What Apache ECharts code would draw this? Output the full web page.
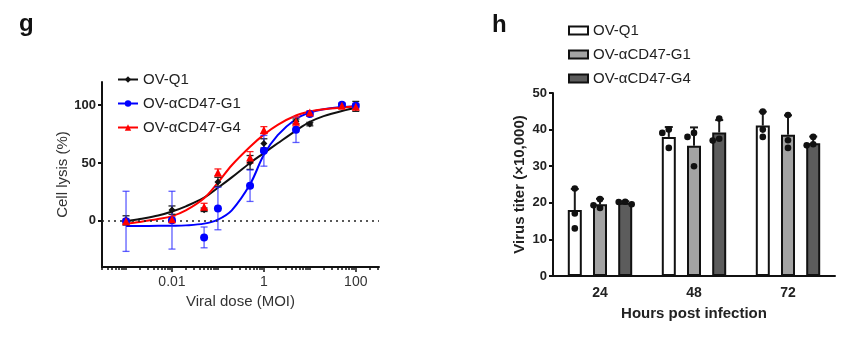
<!DOCTYPE html>
<html>
<head>
<meta charset="utf-8">
<script src="https://cdn.jsdelivr.net/npm/echarts@6/dist/echarts.min.js"></script>
<style>
html,body{margin:0;padding:0;background:#fff;}
#main{width:866px;height:339px;}
</style>
</head>
<body>
<div id="main"></div>
<script>
// ---------- Panel g data ----------
const SERIES_NAMES = ['OV-Q1', 'OV-αCD47-G1', 'OV-αCD47-G4'];
const DOSES = [0.001, 0.01, 0.05, 0.1, 0.5, 1, 5, 10, 50, 100];
const Q1_MEAN = [0.3, 9.2, 9.5, 33.6, 50.4, 66.9, 86, 83.6, 100, 98.9];
const Q1_SD   = [4, 3.6, 1.5, 4, 6, 4, 2, 1.5, 1.5, 4.3];
const G1_MEAN = [-0.5, 0.5, -14.4, 10.6, 30.3, 60.5, 78.7, 92.3, 100.3, 99.5];
const G1_SD   = [26, 25, 9, 18.4, 13.6, 13.3, 11, 2, 1.5, 2];
const G4_MEAN = [-0.5, 1.4, 12.1, 41.8, 54.8, 78.4, 85.9, 93.7, 99.5, 98.6];
const G4_SD   = [2, 2, 3, 3, 5, 3, 4, 1.5, 1, 2];
// fitted curves
const FIT_DOSES = [0.001, 0.002, 0.005, 0.01, 0.02, 0.05, 0.1, 0.2, 0.5, 1, 2, 5, 10, 20, 50, 100];
const Q1_FIT = [-0.5, 1.5, 4.5, 8, 12.5, 20, 28.5, 37.5, 50, 58.5, 67, 78, 85.5, 90.5, 95, 97.5];
const G1_FIT = [-4.5, -4.5, -4.4, -4.3, -4, -2.5, 1, 9, 31.5, 57, 74, 88, 93.5, 96.5, 98.3, 99];
const G4_FIT = [-2.5, -1, 1.5, 4, 9, 19.5, 33, 48, 64, 74.5, 83, 91, 94.5, 96.5, 98, 98.8];
const G_Y_TICKS = [0, 50, 100];
const G_X_LABELS = [0.01, 1, 100];

// ---------- Panel h data ----------
const HOURS = ['24', '48', '72'];
const H_Q1_MEAN = [18.0, 38.0, 41.1];
const H_G1_MEAN = [19.6, 35.6, 38.6];
const H_G4_MEAN = [20.0, 39.2, 36.3];
const H_Q1_SD = [5.8, 2.7, 3.8];
const H_G1_SD = [1.5, 5.0, 5.3];
const H_G4_SD = [0.4, 3.4, 1.8];
const H_Q1_REPS = [[23.9, 17.1, 13.0], [40.0, 39.1, 35.0], [44.9, 40.0, 38.0]];
const H_G1_REPS = [[21.0, 19.3, 18.6], [39.1, 38.0, 30.0], [44.0, 37.1, 35.0]];
const H_G4_REPS = [[19.6, 20.2, 20.3], [43.0, 37.5, 37.0], [38.0, 35.7, 36.0]];

// ---------- styles ----------
const FONT = "'Liberation Sans', Arial, sans-serif";
const G_COLORS = ['#111111', '#0000ff', '#ff0000'];
const G_ERR_COLORS = ['#222222', 'rgba(40,40,255,0.75)', '#ff2020'];
const G_SYMBOLS = ['diamond', 'circle', 'triangle'];
const G_SYMBOL_SIZE = [7, 8, 8];
const H_FILLS = ['#ffffff', '#a3a3a3', '#5c5c5c'];
const BAR_W = 14, BAR_GAP_RATIO = 0.8;

// minor ticks for log axis
const minorTicks = [];
for (let e = -4; e <= 2; e++) {
  for (let k = 1; k <= 9; k++) {
    const v = k * Math.pow(10, e);
    if (v >= 0.0003 && v <= 320) minorTicks.push(+v.toPrecision(3));
  }
}

function gErr(color) {
  return function (params, api) {
    const x = api.value(0), m = api.value(1), s = api.value(2);
    const t = api.coord([x, m + s]);
    const b = api.coord([x, m - s]);
    const hw = 3.5;
    const st = { stroke: color, lineWidth: 1.3 };
    return {
      type: 'group',
      children: [
        { type: 'line', shape: { x1: t[0], y1: t[1], x2: b[0], y2: b[1] }, style: st },
        { type: 'line', shape: { x1: t[0] - hw, y1: t[1], x2: t[0] + hw, y2: t[1] }, style: st },
        { type: 'line', shape: { x1: b[0] - hw, y1: b[1], x2: b[0] + hw, y2: b[1] }, style: st }
      ]
    };
  };
}

const gMeans = [Q1_MEAN, G1_MEAN, G4_MEAN];
const gSds = [Q1_SD, G1_SD, G4_SD];
const gFits = [Q1_FIT, G1_FIT, G4_FIT];

const series = [];
// curves
gFits.forEach((fit, i) => {
  series.push({
    name: SERIES_NAMES[i], type: 'line', xAxisIndex: 0, yAxisIndex: 0,
    data: FIT_DOSES.map((d, j) => [d, fit[j]]),
    smooth: 0.35, showSymbol: false, symbol: G_SYMBOLS[i], symbolSize: G_SYMBOL_SIZE[i],
    lineStyle: { color: G_COLORS[i], width: 2 }, itemStyle: { color: G_COLORS[i] },
    z: 2 + i, silent: true,
    markLine: i === 0 ? {
      silent: true, symbol: 'none', label: { show: false },
      lineStyle: { color: '#222', type: [2, 4], width: 1.5 },
      data: [{ yAxis: 0 }]
    } : undefined
  });
});
// error bars
gMeans.forEach((m, i) => {
  series.push({
    name: SERIES_NAMES[i], type: 'custom', xAxisIndex: 0, yAxisIndex: 0,
    renderItem: gErr(G_ERR_COLORS[i]),
    data: DOSES.map((d, j) => [d, m[j], gSds[i][j]]),
    encode: { x: 0, y: 1 }, z: 5 + i, silent: true
  });
});
// markers
gMeans.forEach((m, i) => {
  series.push({
    name: SERIES_NAMES[i], type: 'scatter', xAxisIndex: 0, yAxisIndex: 0,
    data: DOSES.map((d, j) => [d, m[j]]),
    symbol: G_SYMBOLS[i], symbolSize: G_SYMBOL_SIZE[i],
    itemStyle: { color: G_COLORS[i], opacity: 1 }, z: 8 + i, silent: true
  });
});

// ---------- panel h ----------
const hMeans = [H_Q1_MEAN, H_G1_MEAN, H_G4_MEAN];
const hSds = [H_Q1_SD, H_G1_SD, H_G4_SD];
const hReps = [H_Q1_REPS, H_G1_REPS, H_G4_REPS];
hMeans.forEach((m, i) => {
  series.push({
    name: SERIES_NAMES[i], type: 'bar', xAxisIndex: 2, yAxisIndex: 1,
    data: m, barWidth: BAR_W, barGap: (BAR_GAP_RATIO * 100) + '%',
    itemStyle: { color: H_FILLS[i], borderColor: '#111', borderWidth: 2 },
    silent: true, z: 2
  });
});
const barStep = BAR_W * (1 + BAR_GAP_RATIO);
// error bars (upper only)
const hErrData = [];
hMeans.forEach((m, g) => m.forEach((v, t) => hErrData.push([t, v, hSds[g][t], g])));
series.push({
  type: 'custom', xAxisIndex: 2, yAxisIndex: 1, silent: true, z: 4,
  data: hErrData, encode: { x: 0, y: 1 },
  renderItem: function (params, api) {
    const t = api.value(0), m = api.value(1), s = api.value(2), g = api.value(3);
    const off = (g - 1) * barStep;
    const p0 = api.coord([t, m]);
    const p1 = api.coord([t, m + s]);
    const x = p0[0] + off;
    const st = { stroke: '#1a1a1a', lineWidth: 2 };
    return {
      type: 'group', children: [
        { type: 'line', shape: { x1: x, y1: p0[1], x2: x, y2: p1[1] }, style: st },
        { type: 'line', shape: { x1: x - 4, y1: p1[1], x2: x + 4, y2: p1[1] }, style: st }
      ]
    };
  }
});
// replicate dots, beeswarm-like spreading
function swarm(vals) {
  const order = vals.map((v, i) => i).sort((a, b) => vals[b] - vals[a]);
  const res = new Array(vals.length);
  const slots = [0, -1, 1];
  order.forEach(i => {
    for (const s of slots) {
      const clash = order.some(k => res[k] === s && Math.abs(vals[k] - vals[i]) < 2);
      if (!clash) { res[i] = s; break; }
    }
    if (res[i] === undefined) res[i] = 0;
  });
  return res;
}
const dotData = [];
hReps.forEach((reps, g) => reps.forEach((vals, t) => {
  const sl = swarm(vals);
  vals.forEach((v, r) => dotData.push([t, v, g, sl[r]]));
}));
series.push({
  type: 'custom', xAxisIndex: 2, yAxisIndex: 1, silent: true, z: 6,
  data: dotData, encode: { x: 0, y: 1 },
  renderItem: function (params, api) {
    const t = api.value(0), v = api.value(1), g = api.value(2), s = api.value(3);
    const p = api.coord([t, v]);
    return {
      type: 'circle',
      shape: { cx: p[0] + (g - 1) * barStep + s * 6.5, cy: p[1], r: 3.3 },
      style: { fill: '#111' }
    };
  }
});

const option = {
  animation: false,
  backgroundColor: '#fff',
  textStyle: { fontFamily: FONT },
  graphic: [
    { type: 'text', left: 19, top: 12, style: { text: 'g', font: "bold 24px 'Liberation Sans', Arial", fill: '#111' } },
    { type: 'text', left: 492, top: 13, style: { text: 'h', font: "bold 24px 'Liberation Sans', Arial", fill: '#111' } }
  ],
  legend: [
    {
      orient: 'vertical', left: 112, top: 67, itemWidth: 20, itemHeight: 8, itemGap: 9,
      data: SERIES_NAMES.slice(),
      textStyle: { fontSize: 15, color: '#222', fontFamily: FONT },
      selectedMode: false
    },
    {
      orient: 'vertical', left: 563, top: 18, itemWidth: 19, itemHeight: 8, itemGap: 9,
      data: SERIES_NAMES.map((n, i) => ({
        name: n, icon: 'rect',
        itemStyle: { color: H_FILLS[i], borderColor: '#111', borderWidth: 2 }
      })),
      textStyle: { fontSize: 15, color: '#222', fontFamily: FONT },
      selectedMode: false
    }
  ],
  grid: [
    { left: 102, right: 487, top: 82, bottom: 72 },
    { left: 553, right: 31, top: 93, bottom: 63 }
  ],
  xAxis: [
    {
      type: 'log', logBase: 10, gridIndex: 0, min: 0.0003, max: 320,
      name: 'Viral dose (MOI)', nameLocation: 'middle', nameGap: 25,
      nameTextStyle: { fontSize: 15, color: '#333', fontFamily: FONT },
      axisLine: { onZero: false, lineStyle: { color: '#111', width: 2 } },
      axisTick: { show: true, customValues: minorTicks, length: 3, inside: false, lineStyle: { color: '#111', width: 1.5 } },
      axisLabel: {
        customValues: G_X_LABELS, fontSize: 14, color: '#333', margin: 8, fontFamily: FONT,
        formatter: v => (+v).toString()
      },
      splitLine: { show: false }, minorTick: { show: false }
    },
    {
      type: 'log', logBase: 10, gridIndex: 0, min: 0.0003, max: 320, position: 'bottom',
      axisLine: { show: false, onZero: false },
      axisTick: { show: true, customValues: G_X_LABELS, length: 5, lineStyle: { color: '#111', width: 1.5 } },
      axisLabel: { show: false }, splitLine: { show: false }
    },
    {
      type: 'category', gridIndex: 1, data: HOURS,
      name: 'Hours post infection', nameLocation: 'middle', nameGap: 30,
      nameTextStyle: { fontSize: 15, fontWeight: 'bold', color: '#222', fontFamily: FONT },
      axisLine: { lineStyle: { color: '#111', width: 2 } },
      axisTick: { alignWithLabel: true, length: 4, lineStyle: { color: '#111', width: 2 } },
      axisLabel: { fontSize: 14, fontWeight: 'bold', color: '#222', margin: 10, fontFamily: FONT }
    }
  ],
  yAxis: [
    {
      type: 'value', gridIndex: 0, min: -40, max: 120,
      name: 'Cell lysis (%)', nameLocation: 'middle', nameGap: 30,
      nameTextStyle: { fontSize: 15, color: '#333', fontFamily: FONT },
      axisLine: { show: true, onZero: false, lineStyle: { color: '#111', width: 2 } },
      axisTick: { show: true, customValues: G_Y_TICKS, length: 4, lineStyle: { color: '#111', width: 2 } },
      axisLabel: { customValues: G_Y_TICKS, fontSize: 13, fontWeight: 'bold', color: '#222', margin: 6, fontFamily: FONT },
      splitLine: { show: false }
    },
    {
      type: 'value', gridIndex: 1, min: 0, max: 50, interval: 10,
      name: 'Virus titer (×10,000)', nameLocation: 'middle', nameGap: 26,
      nameTextStyle: { fontSize: 15, fontWeight: 'bold', color: '#222', fontFamily: FONT },
      axisLine: { show: true, lineStyle: { color: '#111', width: 2 } },
      axisTick: { show: true, length: 4, lineStyle: { color: '#111', width: 2 } },
      axisLabel: { fontSize: 13, fontWeight: 'bold', color: '#222', margin: 6, fontFamily: FONT },
      splitLine: { show: false }
    }
  ],
  series: series
};

const chart = echarts.init(document.getElementById('main'), null, { renderer: 'canvas' });
chart.setOption(option);
</script>
</body>
</html>
